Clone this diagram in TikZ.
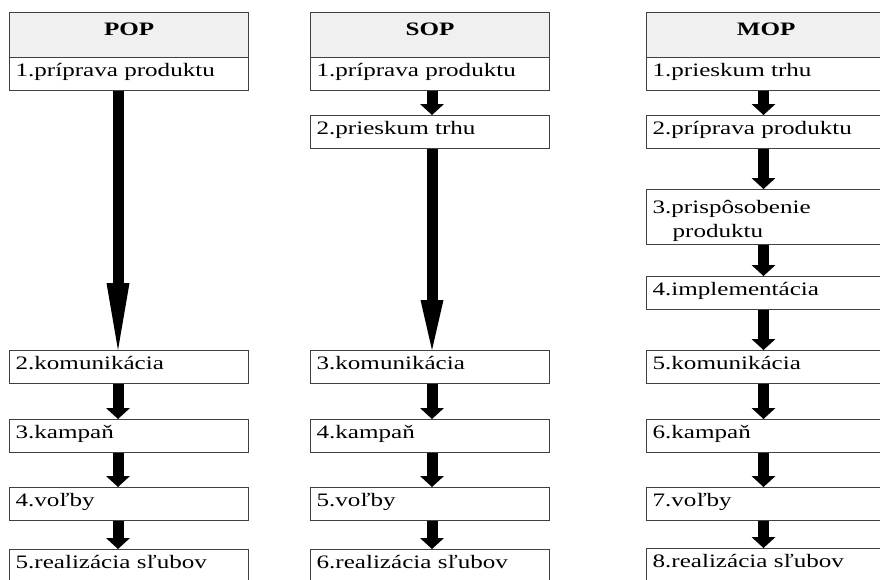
\documentclass[tikz,border=0pt]{standalone}
\usepackage{fontspec}
\setmainfont{Liberation Serif}[FakeStretch=1.32]
\usepackage{tikz}
\usetikzlibrary{arrows.meta}
\newcommand{\boxfont}{\fontsize{19pt}{21pt}\selectfont}

\begin{document}
\begin{tikzpicture}[x=1pt,y=-1pt,
      every node/.style={font=\boxfont},
      head/.style={draw=black!75,line width=1.2pt,fill=black!6,
        minimum width=239pt,inner ysep=0pt,text height=23pt,text depth=22pt,
        anchor=north west,font=\boxfont\bfseries},
      stepbox/.style={draw=black!75,line width=1.2pt,fill=white,
        text width=227pt,inner xsep=6pt,inner ysep=0pt,
        text height=19pt,text depth=14pt,anchor=north west,align=left},
      flow/.style={line width=11pt,-{Triangle[width=24pt,length=11pt,line width=0pt]}},
      longflow/.style={line width=11pt,-{Triangle[width=23pt,length=#1,line width=0pt]}}]
      \useasboundingbox (0,0) rectangle (880,579);
      \clip (0,0) rectangle (880,579);

      % POP
      \node[head] (pop0) at (9,12) {POP};
      \node[stepbox] (pop1) at (9,57) {1.príprava produktu};
      \node[stepbox] (pop2) at (9,350) {2.komunikácia};
      \node[stepbox] (pop3) at (9,419) {3.kampaň};
      \node[stepbox] (pop4) at (9,487) {4.voľby};
      \node[stepbox] (pop5) at (9,549) {5.realizácia sľubov};
      \coordinate (popx) at (118,0);
      \draw[longflow=67pt] (pop1.south -| popx) -- (pop2.north -| popx);
      \foreach \a/\b in {2/3,3/4,4/5}
        \draw[flow] (pop\a.south -| popx) -- (pop\b.north -| popx);

      % SOP
      \node[head] (sop0) at (310,12) {SOP};
      \node[stepbox] (sop1) at (310,57) {1.príprava produktu};
      \node[stepbox] (sop2) at (310,115) {2.prieskum trhu};
      \node[stepbox] (sop3) at (310,350) {3.komunikácia};
      \node[stepbox] (sop4) at (310,419) {4.kampaň};
      \node[stepbox] (sop5) at (310,487) {5.voľby};
      \node[stepbox] (sop6) at (310,549) {6.realizácia sľubov};
      \coordinate (sopx) at (432,0);
      \draw[flow] (sop1.south -| sopx) -- (sop2.north -| sopx);
      \draw[longflow=50pt] (sop2.south -| sopx) -- (sop3.north -| sopx);
      \foreach \a/\b in {3/4,4/5,5/6}
        \draw[flow] (sop\a.south -| sopx) -- (sop\b.north -| sopx);

      % MOP
      \node[head] (mop0) at (646,12) {MOP};
      \node[stepbox] (mop1) at (646,57) {1.prieskum trhu};
      \node[stepbox] (mop2) at (646,115) {2.príprava produktu};
      \node[stepbox,text height=24pt,text depth=31pt] (mop3) at (646,189)
        {3.prispôsobenie\\[3pt]\hspace*{20pt}produktu};
      \node[stepbox] (mop4) at (646,276) {4.implementácia};
      \node[stepbox] (mop5) at (646,350) {5.komunikácia};
      \node[stepbox] (mop6) at (646,419) {6.kampaň};
      \node[stepbox] (mop7) at (646,487) {7.voľby};
      \node[stepbox] (mop8) at (646,548) {8.realizácia sľubov};
      \coordinate (mopx) at (763.5,0);
      \foreach \a/\b in {1/2,2/3,3/4,4/5,5/6,6/7,7/8}
        \draw[flow] (mop\a.south -| mopx) -- (mop\b.north -| mopx);
\end{tikzpicture}
\end{document}
